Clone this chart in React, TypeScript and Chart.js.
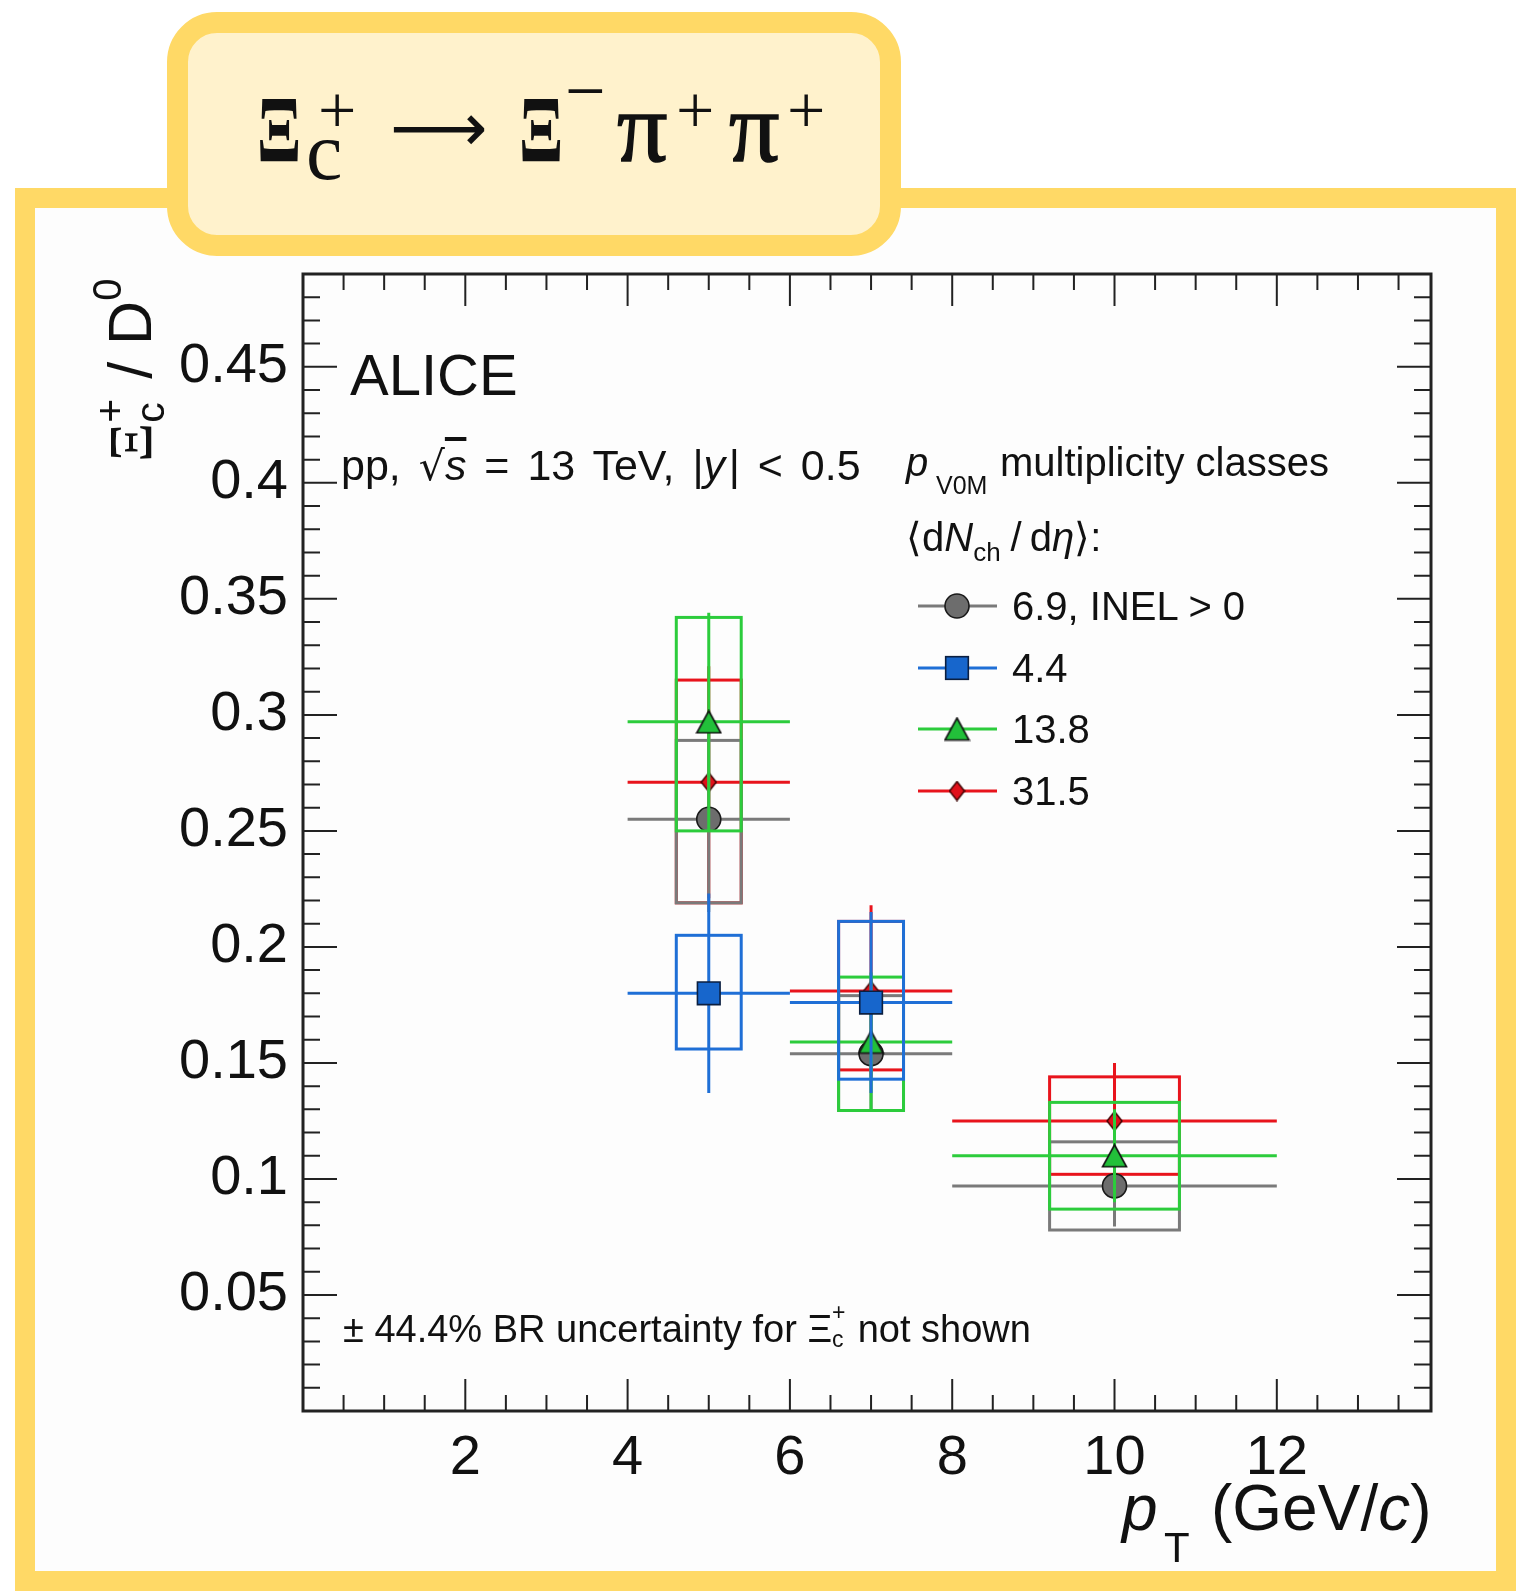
import React, { useEffect, useRef } from 'react';
import { Chart, registerables } from 'chart.js';

Chart.register(...registerables);

// ---------------- data ----------------
const binCenters = [5, 7, 10];
const binLow = [4, 6, 8];
const binHigh = [6, 8, 12];
const sysBoxHalfWidth = [0.4, 0.4, 0.8];

const seriesLabels = ['6.9, INEL > 0', '4.4', '13.8', '31.5'];

// <dNch/deta> = 6.9 (INEL > 0), grey circles
const inelValues = [0.255, 0.154, 0.097];
const inelStat = [0.04, 0.025, 0.0175];
const inelSysLow = [0.036, 0.0245, 0.019];
const inelSysHigh = [0.034, 0.025, 0.019];

// <dNch/deta> = 4.4, blue squares
const lowMultValues = [0.18, 0.176];
const lowMultStat = [0.043, 0.039];
const lowMultSysLow = [0.024, 0.033];
const lowMultSysHigh = [0.025, 0.035];

// <dNch/deta> = 13.8, green triangles
const midMultValues = [0.297, 0.159, 0.11];
const midMultStat = [0.047, 0.03, 0.02];
const midMultSysLow = [0.047, 0.0295, 0.023];
const midMultSysHigh = [0.045, 0.028, 0.023];

// <dNch/deta> = 31.5, red diamonds
const highMultValues = [0.271, 0.181, 0.125];
const highMultStat = [0.05, 0.037, 0.025];
const highMultSysLow = [0.052, 0.034, 0.023];
const highMultSysHigh = [0.044, 0.03, 0.019];

const xTickValues = [2, 4, 6, 8, 10, 12];
const xTickLabels = ['2', '4', '6', '8', '10', '12'];
const yTickValues = [0.05, 0.1, 0.15, 0.2, 0.25, 0.3, 0.35, 0.4, 0.45];
const yTickLabels = ['0.05', '0.1', '0.15', '0.2', '0.25', '0.3', '0.35', '0.4', '0.45'];
const xMin = 0;
const xMax = 13.9;
const yMin = 0;
const yMax = 0.49;
const xMinorStep = 0.5;
const yMinorStep = 0.01;

// ---------------- style ----------------
const SANS = '"Liberation Sans", Arial, Helvetica, sans-serif';
const SERIF = '"Liberation Serif", "Times New Roman", serif';
const INK = '#111';
const GOLD = '#ffd966';
const GOLD_FILL = '#fff2cc';

const COLORS = {
  gray: { line: '#7a7a7a', fill: '#6d6d6d', edge: '#1a1a1a' },
  blue: { line: '#1f6fd6', fill: '#1766cc', edge: '#0b1f40' },
  green: { line: '#2ccc3c', fill: '#22c03a', edge: '#111' },
  red: { line: '#e8141c', fill: '#e0101a', edge: '#3a0000' },
};

const legendRowY = [606, 668, 729, 791];
const legendLineX = [918, 997];
const legendMarkerX = 957;

function makeTriangle(fill: string, edge: string) {
  const c = document.createElement('canvas');
  c.width = 27;
  c.height = 25;
  const g = c.getContext('2d')!;
  g.beginPath();
  g.moveTo(c.width / 2, 1.5);
  g.lineTo(c.width - 1.5, c.height - 1.5);
  g.lineTo(1.5, c.height - 1.5);
  g.closePath();
  g.fillStyle = fill;
  g.fill();
  g.lineWidth = 1.6;
  g.strokeStyle = edge;
  g.stroke();
  return c;
}

function makeDiamond(fill: string, edge: string) {
  const c = document.createElement('canvas');
  c.width = 17;
  c.height = 21;
  const g = c.getContext('2d')!;
  g.beginPath();
  g.moveTo(c.width / 2, 1);
  g.lineTo(c.width - 1, c.height / 2);
  g.lineTo(c.width / 2, c.height - 1);
  g.lineTo(1, c.height / 2);
  g.closePath();
  g.fillStyle = fill;
  g.fill();
  g.lineWidth = 1.4;
  g.strokeStyle = edge;
  g.stroke();
  return c;
}

function drawMarker(ctx: CanvasRenderingContext2D, ds: any, x: number, y: number) {
  const st = ds.pointStyle;
  ctx.save();
  if (typeof st === 'object') {
    ctx.drawImage(st, x - st.width / 2, y - st.height / 2);
  } else if (st === 'circle') {
    ctx.beginPath();
    ctx.arc(x, y, ds.pointRadius, 0, Math.PI * 2);
    ctx.fillStyle = ds.backgroundColor;
    ctx.fill();
    ctx.lineWidth = ds.borderWidth;
    ctx.strokeStyle = ds.borderColor;
    ctx.stroke();
  } else if (st === 'rect') {
    const s = ds.pointRadius * Math.SQRT1_2;
    ctx.fillStyle = ds.backgroundColor;
    ctx.fillRect(x - s, y - s, 2 * s, 2 * s);
    ctx.lineWidth = ds.borderWidth;
    ctx.strokeStyle = ds.borderColor;
    ctx.strokeRect(x - s, y - s, 2 * s, 2 * s);
  }
  ctx.restore();
}

const rootStylePlugin = {
  id: 'rootStyle',
  beforeDatasetDraw(chart: any, args: any) {
    const ds = chart.data.datasets[args.index];
    const { ctx, chartArea: a } = chart;
    const xs = chart.scales.x;
    const ys = chart.scales.y;
    ctx.save();
    ctx.beginPath();
    ctx.rect(a.left, a.top, a.right - a.left, a.bottom - a.top);
    ctx.clip();
    ctx.strokeStyle = ds.lineColor;
    ctx.lineWidth = 3;
    ctx.lineCap = 'butt';
    ds.data.forEach((pt: any, i: number) => {
      const px = xs.getPixelForValue(pt.x);
      const py = ys.getPixelForValue(pt.y);
      const bl = xs.getPixelForValue(pt.x - ds.boxHalf[i]);
      const br = xs.getPixelForValue(pt.x + ds.boxHalf[i]);
      const bt = ys.getPixelForValue(pt.y + ds.sysHigh[i]);
      const bb = ys.getPixelForValue(pt.y - ds.sysLow[i]);
      ctx.strokeRect(bl, bt, br - bl, bb - bt);
      const xl = xs.getPixelForValue(ds.xLow[i]);
      const xr = xs.getPixelForValue(ds.xHigh[i]);
      const st = ys.getPixelForValue(pt.y + ds.stat[i]);
      const sb = ys.getPixelForValue(pt.y - ds.stat[i]);
      ctx.beginPath();
      ctx.moveTo(xl, py);
      ctx.lineTo(xr, py);
      ctx.moveTo(px, st);
      ctx.lineTo(px, sb);
      ctx.stroke();
    });
    ctx.restore();
  },
  afterDatasetsDraw(chart: any) {
    const { ctx, chartArea: a } = chart;
    const xs = chart.scales.x;
    const ys = chart.scales.y;
    ctx.save();
    ctx.strokeStyle = '#222';
    ctx.lineWidth = 2;
    ctx.beginPath();
    for (let k = 1; k * xMinorStep < xMax; k++) {
      const v = k * xMinorStep;
      const px = xs.getPixelForValue(v);
      const len = xTickValues.includes(v) ? 32 : 16;
      ctx.moveTo(px, a.bottom);
      ctx.lineTo(px, a.bottom - len);
      ctx.moveTo(px, a.top);
      ctx.lineTo(px, a.top + len);
    }
    for (let k = 1; k * yMinorStep < yMax - 1e-9; k++) {
      const v = k * yMinorStep;
      const py = ys.getPixelForValue(v);
      const major = yTickValues.some((t) => Math.abs(t - v) < 1e-9);
      const len = major ? 34 : 17;
      ctx.moveTo(a.left, py);
      ctx.lineTo(a.left + len, py);
      ctx.moveTo(a.right, py);
      ctx.lineTo(a.right - len, py);
    }
    ctx.stroke();
    ctx.lineWidth = 3;
    ctx.strokeRect(a.left, a.top, a.right - a.left, a.bottom - a.top);
    ctx.restore();
  },
  afterDraw(chart: any) {
    const { ctx } = chart;
    const order = chart.data.datasets
      .map((d: any, i: number) => ({ d, i }))
      .sort((p: any, q: any) => p.d.legendRank - q.d.legendRank);
    order.forEach(({ d }: any, row: number) => {
      const y = legendRowY[row];
      ctx.save();
      ctx.strokeStyle = d.lineColor;
      ctx.lineWidth = 3;
      ctx.beginPath();
      ctx.moveTo(legendLineX[0], y);
      ctx.lineTo(legendLineX[1], y);
      ctx.stroke();
      ctx.restore();
      drawMarker(ctx, d, legendMarkerX, y);
    });
  },
};

function makeDataset(
  label: string,
  values: number[],
  stat: number[],
  sysLow: number[],
  sysHigh: number[],
  color: { line: string; fill: string; edge: string },
  pointStyle: any,
  pointRadius: number,
  order: number,
  legendRank: number
) {
  return {
    label,
    data: values.map((v, i) => ({ x: binCenters[i], y: v })),
    stat,
    sysLow,
    sysHigh,
    xLow: binLow.slice(0, values.length),
    xHigh: binHigh.slice(0, values.length),
    boxHalf: sysBoxHalfWidth.slice(0, values.length),
    lineColor: color.line,
    backgroundColor: color.fill,
    borderColor: color.edge,
    borderWidth: 1.6,
    pointStyle,
    pointRadius,
    pointHoverRadius: pointRadius,
    showLine: false,
    order,
    legendRank,
  };
}

// ---------------- small text helpers ----------------
const K_SANS = 0.8465;

function Txt(props: any) {
  const { x, base, size, family = SANS, k = K_SANS, style, children } = props;
  return (
    <div
      style={{
        position: 'absolute',
        left: x,
        top: base - k * size,
        fontSize: size,
        lineHeight: 1,
        fontFamily: family,
        whiteSpace: 'nowrap',
        color: INK,
        ...style,
      }}
    >
      {children}
    </div>
  );
}

function Shift(props: any) {
  const { size, dy, style, children } = props;
  return (
    <span style={{ fontSize: size, position: 'relative', top: dy, lineHeight: 0, ...style }}>
      {children}
    </span>
  );
}

function SubSup(props: any) {
  const { sub, sup, size, drop, rise, width, subStyle, supStyle } = props;
  return (
    <span style={{ display: 'inline-block', position: 'relative', width, height: 0 }}>
      <span style={{ position: 'absolute', left: 0, top: drop - K_SANS * size, fontSize: size, lineHeight: 1, ...subStyle }}>
        {sub}
      </span>
      <span style={{ position: 'absolute', left: 0, top: -rise - K_SANS * size, fontSize: size, lineHeight: 1, ...supStyle }}>
        {sup}
      </span>
    </span>
  );
}

export default function App() {
  const canvasRef = useRef<HTMLCanvasElement>(null);

  useEffect(() => {
    const canvas = canvasRef.current;
    if (!canvas) return;
    const triangle = makeTriangle(COLORS.green.fill, COLORS.green.edge);
    const diamond = makeDiamond(COLORS.red.fill, COLORS.red.edge);

    const datasets = [
      makeDataset(seriesLabels[3], highMultValues, highMultStat, highMultSysLow, highMultSysHigh, COLORS.red, diamond, 9, 4, 3),
      makeDataset(seriesLabels[0], inelValues, inelStat, inelSysLow, inelSysHigh, COLORS.gray, 'circle', 12, 3, 0),
      makeDataset(seriesLabels[2], midMultValues, midMultStat, midMultSysLow, midMultSysHigh, COLORS.green, triangle, 12, 2, 2),
      makeDataset(seriesLabels[1], lowMultValues, lowMultStat, lowMultSysLow, lowMultSysHigh, COLORS.blue, 'rect', 16, 1, 1),
    ];

    const tickFont = { family: SANS, size: 56 };

    const chart = new Chart(canvas, {
      type: 'scatter',
      data: { datasets: datasets as any },
      options: {
        animation: false,
        responsive: false,
        devicePixelRatio: 1,
        layout: { padding: { left: 0, top: 274, right: 85, bottom: 0 } },
        plugins: { legend: { display: false }, tooltip: { enabled: false } },
        scales: {
          x: {
            type: 'linear',
            min: xMin,
            max: xMax,
            grid: { display: false },
            border: { display: false },
            afterBuildTicks: (s: any) => {
              s.ticks = xTickValues.map((v) => ({ value: v }));
            },
            afterFit: (s: any) => {
              s.height = 180;
            },
            ticks: {
              autoSkip: false,
              maxRotation: 0,
              minRotation: 0,
              padding: 6,
              color: INK,
              font: tickFont,
              callback: (_v: any, i: number) => xTickLabels[i],
            },
          },
          y: {
            type: 'linear',
            min: yMin,
            max: yMax,
            grid: { display: false },
            border: { display: false },
            afterBuildTicks: (s: any) => {
              s.ticks = yTickValues.map((v) => ({ value: v }));
            },
            afterFit: (s: any) => {
              s.width = 303;
            },
            ticks: {
              autoSkip: false,
              padding: 7,
              color: INK,
              font: tickFont,
              callback: (_v: any, i: number) => yTickLabels[i],
            },
          },
        },
      },
      plugins: [rootStylePlugin as any],
    });
    return () => chart.destroy();
  }, []);

  return (
    <div
      style={{
        position: 'absolute',
        left: 0,
        top: 0,
        width: 1516,
        height: 1591,
        overflow: 'hidden',
        background: '#fff',
        fontFamily: SANS,
        color: INK,
      }}
    >
      {/* outer frame */}
      <div
        style={{
          position: 'absolute',
          left: 15,
          top: 188,
          width: 1501,
          height: 1403,
          border: `20px solid ${GOLD}`,
          boxSizing: 'border-box',
          background: '#fdfdfd',
        }}
      />
      {/* title box */}
      <div
        style={{
          position: 'absolute',
          left: 167,
          top: 12,
          width: 734,
          height: 244,
          border: `21px solid ${GOLD}`,
          borderRadius: 50,
          boxSizing: 'border-box',
          background: GOLD_FILL,
        }}
      />
      {/* title formula: Xi_c^+ -> Xi^- pi^+ pi^+ */}
      <Txt x={257} base={162} size={96} family={SERIF} k={0.8375} style={{ transform: 'scaleX(0.68)', transformOrigin: '0 0', fontWeight: 700 }}>Ξ</Txt>
      <Txt x={318} base={133} size={68} family={SERIF} k={0.8375}>+</Txt>
      <Txt x={306} base={180} size={82} family={SERIF} k={0.8375}>c</Txt>
      <Txt x={390} base={152} size={68} family={'"DejaVu Sans", sans-serif'} k={0.846}>⟶</Txt>
      <Txt x={519} base={162} size={96} family={SERIF} k={0.8375} style={{ transform: 'scaleX(0.68)', transformOrigin: '0 0', fontWeight: 700 }}>Ξ</Txt>
      <Txt x={565} base={115} size={72} family={SERIF} k={0.8375}>−</Txt>
      <Txt x={617} base={162} size={100} family={SERIF} k={0.8375} style={{ WebkitTextStroke: '1.5px #111' }}>π</Txt>
      <Txt x={676} base={133} size={68} family={SERIF} k={0.8375}>+</Txt>
      <Txt x={729} base={162} size={100} family={SERIF} k={0.8375} style={{ WebkitTextStroke: '1.5px #111' }}>π</Txt>
      <Txt x={787} base={133} size={68} family={SERIF} k={0.8375}>+</Txt>

      <canvas ref={canvasRef} width={1516} height={1591} style={{ position: 'absolute', left: 0, top: 0 }} />

      {/* y-axis title */}
      <div
        style={{
          position: 'absolute',
          left: 100,
          top: 462,
          transform: 'rotate(-90deg)',
          transformOrigin: '0 0',
          fontSize: 61,
          lineHeight: 1,
          whiteSpace: 'nowrap',
          fontFamily: SANS,
          color: INK,
        }}
      >
        <span style={{ fontFamily: SERIF }}>Ξ</span>
        <SubSup sub="c" sup="+" size={41} drop={14} rise={26} width={27} />
        {' / D'}
        <Shift size={40} dy={-30}>0</Shift>
      </div>

      {/* x-axis title */}
      <Txt x={1122} base={1530} size={64}><i>p</i></Txt>
      <Txt x={1164} base={1563} size={42}>T</Txt>
      <Txt x={1211} base={1530} size={64}>(GeV/<i>c</i>)</Txt>

      {/* annotations */}
      <Txt x={350} base={395} size={58}>ALICE</Txt>
      <Txt x={341} base={480} size={43} style={{ wordSpacing: 6 }}>
        pp, <span style={{ fontFamily: '"DejaVu Sans", sans-serif', fontSize: 41 }}>√</span>
        <i style={{ textDecoration: 'overline' }}>s</i> = 13 TeV, |<i>y</i>&#8202;| &lt; 0.5
      </Txt>

      <Txt x={906} base={476} size={40}><i>p</i></Txt>
      <Txt x={936} base={494} size={25}>V0M</Txt>
      <Txt x={1000} base={476} size={40}>multiplicity classes</Txt>
      <Txt x={906} base={551} size={40}>
        ⟨d<i>N</i>
        <Shift size={26} dy={10}>ch</Shift>
        <span style={{ marginLeft: 10, marginRight: 8 }}>/</span>d<i>η</i>⟩:
      </Txt>

      <Txt x={1012} base={620} size={40}>{seriesLabels[0]}</Txt>
      <Txt x={1012} base={682} size={40}>{seriesLabels[1]}</Txt>
      <Txt x={1012} base={743} size={40}>{seriesLabels[2]}</Txt>
      <Txt x={1012} base={805} size={40}>{seriesLabels[3]}</Txt>

      <Txt x={343} base={1342} size={38}>
        ± 44.4% BR uncertainty for Ξ
        <SubSup sub="c" sup="+" size={23} drop={6} rise={21} width={15} />
        {' not shown'}
      </Txt>
    </div>
  );
}
